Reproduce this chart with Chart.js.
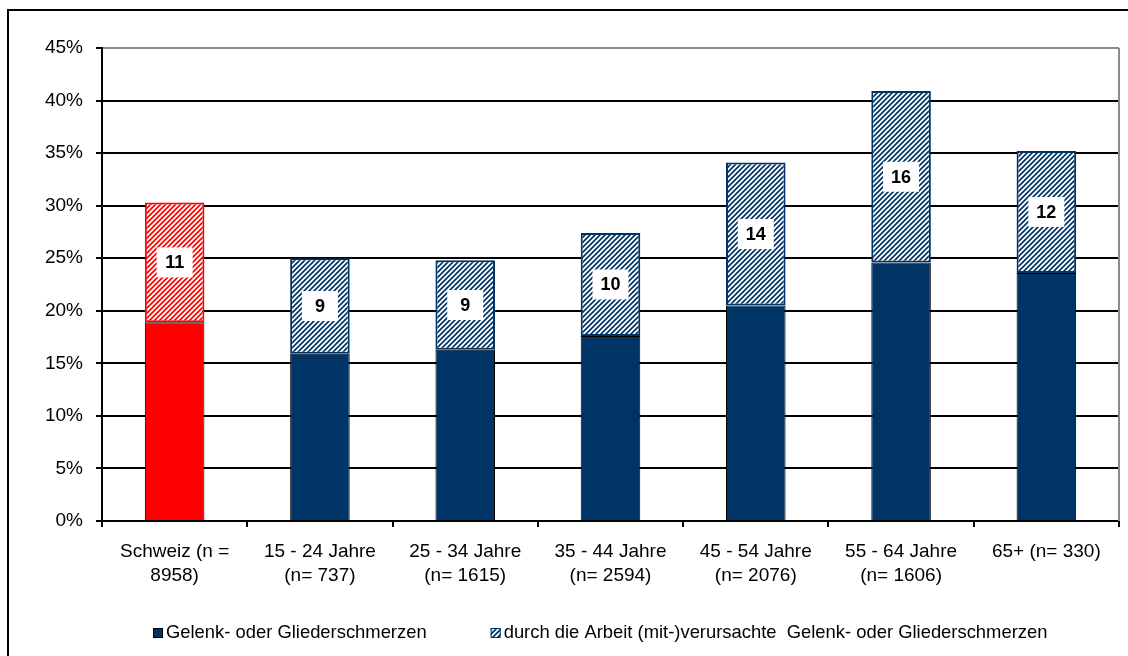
<!DOCTYPE html>
<html>
<head>
<meta charset="utf-8">
<script src="https://cdn.jsdelivr.net/npm/chart.js@4"></script>
<style>
  html, body { margin: 0; padding: 0; background: #fff; }
  #wrap { width: 1128px; height: 656px; }
</style>
</head>
<body>
<div id="wrap"><canvas id="myChart" width="1128" height="656"></canvas></div>
<script>
// Kategorien (zweizeilig)
const categories = [
    ['Schweiz (n =', '8958)'],
    ['15 - 24 Jahre', '(n= 737)'],
    ['25 - 34 Jahre', '(n= 1615)'],
    ['35 - 44 Jahre', '(n= 2594)'],
    ['45 - 54 Jahre', '(n= 2076)'],
    ['55 - 64 Jahre', '(n= 1606)'],
    ['65+ (n= 330)', '']
];
// Gelenk- oder Gliederschmerzen in %
const schmerzen = [18.9, 15.9, 16.3, 17.6, 20.5, 24.6, 23.6];
// davon durch die Arbeit (mit-)verursacht in %
const arbeitsbedingt = [11.4, 9.1, 8.5, 9.8, 13.6, 16.3, 11.6];
// Beschriftungen im schraffierten Teil
const arbeitLabels = ['11', '9', '9', '10', '14', '16', '12'];

const seriesNames = ['Gelenk- oder Gliederschmerzen', 'durch die Arbeit (mit-)verursachte  Gelenk- oder Gliederschmerzen'];

const blau = '#003366';
const rot = '#FF0000';
const fontFamily = '"Liberation Sans", Arial, sans-serif';

// Schraffur-Muster erzeugen
function makeHatch(color) {
    const size = 5;
    const c = document.createElement('canvas');
    c.width = size;
    c.height = size;
    const g = c.getContext('2d');
    g.fillStyle = '#fff';
    g.fillRect(0, 0, size, size);
    g.strokeStyle = color;
    g.lineWidth = 1.7;
    g.beginPath();
    g.moveTo(-1, size + 1); g.lineTo(size + 1, -1);
    g.moveTo(-1, 1); g.lineTo(1, -1);
    g.moveTo(size - 1, size + 1); g.lineTo(size + 1, size - 1);
    g.stroke();
    return g.createPattern(c, 'repeat');
}

const hatchBlau = makeHatch(blau);
const hatchRot = makeHatch(rot);

const solidColors = categories.map((c, i) => i === 0 ? rot : blau);
const hatchColors = categories.map((c, i) => i === 0 ? hatchRot : hatchBlau);
const hatchBorders = categories.map((c, i) => i === 0 ? rot : blau);

// Hintergrund und Rahmen
const framePlugin = {
    id: 'frame',
    beforeDraw(chart) {
        const ctx = chart.ctx;
        ctx.save();
        ctx.fillStyle = '#fff';
        ctx.fillRect(0, 0, chart.width, chart.height);
        ctx.strokeStyle = '#000';
        ctx.lineWidth = 2;
        ctx.beginPath();
        ctx.moveTo(8, chart.height);
        ctx.lineTo(8, 10);
        ctx.lineTo(chart.width, 10);
        ctx.stroke();
        ctx.restore();
    },
    afterDraw(chart) {
        const a = chart.chartArea;
        const ctx = chart.ctx;
        ctx.save();
        ctx.strokeStyle = '#8c8c8c';
        ctx.lineWidth = 2;
        ctx.beginPath();
        ctx.moveTo(a.right, a.top);
        ctx.lineTo(a.right, a.bottom);
        ctx.stroke();
        ctx.restore();
    }
};

// Zahlen in weissen Kästchen
const boxLabels = {
    id: 'boxLabels',
    afterDatasetsDraw(chart) {
        const ctx = chart.ctx;
        const meta = chart.getDatasetMeta(1);
        ctx.save();
        ctx.font = 'bold 18px ' + fontFamily;
        ctx.textAlign = 'center';
        ctx.textBaseline = 'middle';
        meta.data.forEach((bar, i) => {
            const x = bar.x;
            const y = (bar.y + bar.base) / 2;
            ctx.fillStyle = '#fff';
            ctx.fillRect(x - 18, y - 15, 36, 30);
            ctx.fillStyle = '#000';
            ctx.fillText(arbeitLabels[i], x, y + 1);
        });
        ctx.restore();
    }
};

// Legende unten (eigene Zeichnung, damit die Abstände passen)
const bottomLegend = {
    id: 'bottomLegend',
    afterDraw(chart) {
        const ctx = chart.ctx;
        const a = chart.chartArea;
        const fills = [blau, hatchBlau];
        const strokes = ['#000', blau];
        const box = 10, gap = 3, itemGap = 64;
        const y = 633;
        ctx.save();
        ctx.font = '18.4px ' + fontFamily;
        ctx.textBaseline = 'middle';
        let x = a.left + 51;
        seriesNames.forEach((name, i) => {
            ctx.fillStyle = fills[i];
            ctx.fillRect(x, y - box / 2, box, box);
            ctx.strokeStyle = strokes[i];
            ctx.lineWidth = 1;
            ctx.strokeRect(x + 0.5, y - box / 2 + 0.5, box - 1, box - 1);
            ctx.fillStyle = '#000';
            ctx.fillText(name, x + box + gap, y);
            x += box + gap + ctx.measureText(name).width + itemGap;
        });
        ctx.restore();
    }
};

const ctx = document.getElementById('myChart').getContext('2d');

const myChart = new Chart(ctx, {
    type: 'bar',
    data: {
        labels: categories,
        datasets: [{
            label: seriesNames[0],
            data: schmerzen,
            backgroundColor: solidColors,
            borderColor: '#000',
            borderWidth: 1,
            barPercentage: 0.41,
            categoryPercentage: 1
        }, {
            label: seriesNames[1],
            data: arbeitsbedingt,
            backgroundColor: hatchColors,
            borderColor: hatchBorders,
            borderWidth: 2,
            borderSkipped: false,
            barPercentage: 0.41,
            categoryPercentage: 1
        }]
    },
    options: {
        responsive: false,
        animation: false,
        layout: {
            padding: { left: 10, right: 9, top: 48, bottom: 40 }
        },
        scales: {
            x: {
                stacked: true,
                grid: {
                    drawOnChartArea: false,
                    drawTicks: true,
                    tickLength: 6,
                    color: '#000',
                    lineWidth: 2
                },
                border: { color: '#000', width: 2 },
                ticks: {
                    color: '#000',
                    padding: 13,
                    maxRotation: 0,
                    autoSkip: false,
                    font: { size: 19, family: fontFamily, lineHeight: 1.25 }
                },
                afterFit(scale) { scale.height = 95; }
            },
            y: {
                stacked: true,
                min: 0,
                max: 45,
                ticks: {
                    stepSize: 5,
                    color: '#000',
                    padding: 13,
                    font: { size: 19, family: fontFamily },
                    callback: v => v + '%'
                },
                grid: {
                    color: c => c.tick && c.tick.value === 45 ? '#8c8c8c' : '#000',
                    lineWidth: 2,
                    tickLength: 6,
                    tickColor: '#000'
                },
                border: { color: '#000', width: 2 },
                afterFit(scale) { scale.width = 92; }
            }
        },
        plugins: {
            tooltip: { enabled: false },
            legend: { display: false }
        }
    },
    plugins: [framePlugin, boxLabels, bottomLegend]
});
</script>
</body>
</html>
